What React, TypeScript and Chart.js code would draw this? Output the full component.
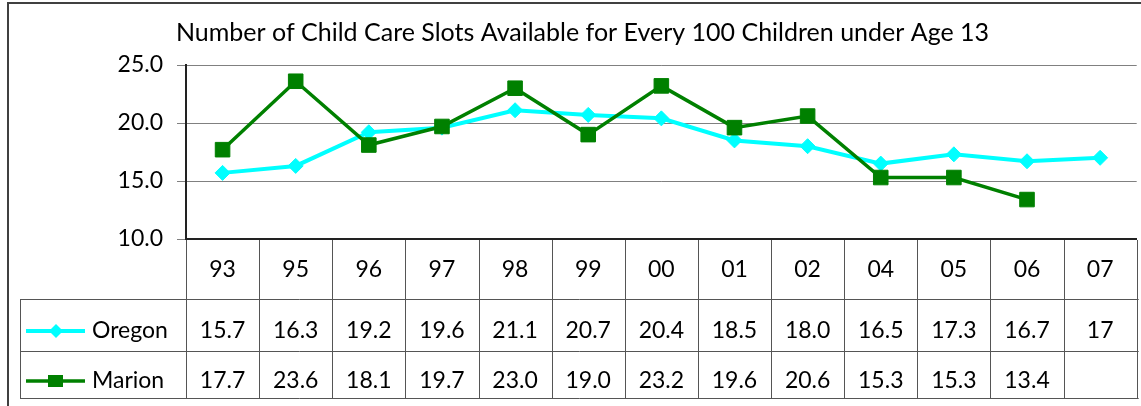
import React, { useEffect, useRef } from 'react';
import { Chart, registerables } from 'chart.js';

Chart.register(...registerables);

const chartTitle = 'Number of Child Care Slots Available for Every 100 Children under Age 13';
const categories = ['93', '95', '96', '97', '98', '99', '00', '01', '02', '04', '05', '06', '07'];
const oregonText = ['15.7', '16.3', '19.2', '19.6', '21.1', '20.7', '20.4', '18.5', '18.0', '16.5', '17.3', '16.7', '17'];
const marionText = ['17.7', '23.6', '18.1', '19.7', '23.0', '19.0', '23.2', '19.6', '20.6', '15.3', '15.3', '13.4', ''];
const oregonValues = oregonText.map((t) => Number(t));
const marionValues = marionText.map((t) => (t === '' ? null : Number(t)));
const seriesNames = ['Oregon', 'Marion'];
const yMin = 10;
const yMax = 25;
const yStep = 5;

const FONT = 'Lato';
const FONT_SIZE = 23;
const CYAN = '#00FFFF';
const GREEN = '#008000';
const LINE = '#555555';

const framePlugin = {
  id: 'frame',
  beforeDraw(chart: any) {
    const ctx = chart.ctx;
    ctx.save();
    ctx.fillStyle = '#ffffff';
    ctx.fillRect(0, 0, chart.width, chart.height);
    ctx.strokeStyle = '#404040';
    ctx.lineWidth = 2;
    ctx.strokeRect(8, 3, 3000, 3000);
    ctx.restore();
  },
};

const tablePlugin = {
  id: 'dataTable',
  afterDraw(chart: any) {
    const ctx = chart.ctx;
    const xs = chart.scales.x;
    const area = chart.chartArea;
    const step = xs.getPixelForValue(1) - xs.getPixelForValue(0);
    const left = Math.round(xs.getPixelForValue(0) - step / 2);
    const n = categories.length;
    const right = left + n * step;
    const top = Math.round(area.bottom);
    const headerBottom = top + 60;
    const row1Bottom = headerBottom + 52;
    const row2Bottom = row1Bottom + 47;
    const tableLeft = 20;

    ctx.save();
    ctx.strokeStyle = LINE;
    ctx.lineWidth = 1;
    ctx.beginPath();
    for (let i = 0; i <= n; i++) {
      const px = Math.round(left + i * step) + 0.5;
      ctx.moveTo(px, top + 1);
      ctx.lineTo(px, row2Bottom);
    }
    ctx.moveTo(tableLeft + 0.5, headerBottom);
    ctx.lineTo(tableLeft + 0.5, row2Bottom);
    [headerBottom, row1Bottom, row2Bottom].forEach((y) => {
      ctx.moveTo(tableLeft, y + 0.5);
      ctx.lineTo(right + 2, y + 0.5);
    });
    ctx.stroke();

    const rows = [
      { name: seriesNames[0], texts: oregonText, color: CYAN, baseline: headerBottom + 39, style: 'diamond' },
      { name: seriesNames[1], texts: marionText, color: GREEN, baseline: row1Bottom + 37, style: 'square' },
    ];
    ctx.font = `${FONT_SIZE}px ${FONT}`;
    ctx.fillStyle = '#000000';
    ctx.textBaseline = 'alphabetic';
    rows.forEach((r) => {
      ctx.textAlign = 'center';
      ctx.fillStyle = '#000000';
      r.texts.forEach((t, i) => {
        if (t) ctx.fillText(t, xs.getPixelForValue(i), r.baseline);
      });
      const cy = r.baseline - 7;
      ctx.strokeStyle = r.color;
      ctx.lineWidth = r.style === 'diamond' ? 4 : 3.5;
      ctx.beginPath();
      ctx.moveTo(26, cy);
      ctx.lineTo(85, cy);
      ctx.stroke();
      ctx.fillStyle = r.color;
      ctx.beginPath();
      if (r.style === 'diamond') {
        ctx.moveTo(56, cy - 7);
        ctx.lineTo(63, cy);
        ctx.lineTo(56, cy + 7);
        ctx.lineTo(49, cy);
        ctx.closePath();
      } else {
        ctx.rect(48, cy - 6, 15, 12);
      }
      ctx.fill();
      ctx.fillStyle = '#000000';
      ctx.textAlign = 'left';
      ctx.fillText(r.name, 92, r.baseline);
    });
    ctx.restore();
  },
};

export default function App() {
  const canvasRef = useRef<HTMLCanvasElement | null>(null);

  useEffect(() => {
    const canvas = canvasRef.current;
    if (!canvas) return;
    const chart = new Chart(canvas, {
      type: 'line',
      data: {
        labels: categories,
        datasets: [
          {
            label: seriesNames[0],
            data: oregonValues,
            borderColor: CYAN,
            backgroundColor: CYAN,
            borderWidth: 4,
            pointStyle: 'rectRot',
            pointRadius: 7.5,
            pointBorderWidth: 1,
            pointBackgroundColor: CYAN,
            pointBorderColor: CYAN,
            tension: 0,
            order: 1,
          },
          {
            label: seriesNames[1],
            data: marionValues,
            borderColor: GREEN,
            backgroundColor: GREEN,
            borderWidth: 3.5,
            pointStyle: 'rect',
            pointRadius: 10.3,
            pointBorderWidth: 1,
            pointBackgroundColor: GREEN,
            pointBorderColor: GREEN,
            tension: 0,
            spanGaps: false,
            order: 0,
          },
        ],
      },
      options: {
        responsive: false,
        animation: false,
        devicePixelRatio: 1,
        layout: { padding: { left: 17, right: 0, top: 0, bottom: 107 } },
        plugins: {
          legend: { display: false },
          tooltip: { enabled: false },
          title: {
            display: true,
            text: chartTitle,
            color: '#000000',
            font: { family: FONT, size: 25, weight: 'normal' },
            padding: { top: 18, bottom: 17 },
          },
        },
        scales: {
          x: {
            type: 'category',
            offset: true,
            grid: { display: false, drawTicks: false },
            border: { display: true, color: '#222222', width: 2 },
            ticks: {
              color: '#000000',
              font: { family: FONT, size: FONT_SIZE },
              padding: 16.5,
              maxRotation: 0,
              autoSkip: false,
            },
            afterFit: (scale: any) => {
              scale.height = 60;
            },
          },
          y: {
            min: yMin,
            max: yMax,
            grid: { color: '#808080', lineWidth: 1, tickLength: 9 },
            border: { display: true, color: '#222222', width: 2 },
            ticks: {
              stepSize: yStep,
              color: '#000000',
              font: { family: FONT, size: FONT_SIZE },
              padding: 14,
              callback: (v: any) => Number(v).toFixed(1),
            },
            afterFit: (scale: any) => {
              scale.width = 169;
            },
          },
        },
      },
      plugins: [framePlugin, tablePlugin],
    });
    return () => chart.destroy();
  }, []);

  return (
    <div style={{ position: 'absolute', left: 0, top: 0, width: 1141, height: 406, overflow: 'hidden', background: '#fff' }}>
      <canvas ref={canvasRef} width={1148} height={406} style={{ display: 'block' }} />
    </div>
  );
}
